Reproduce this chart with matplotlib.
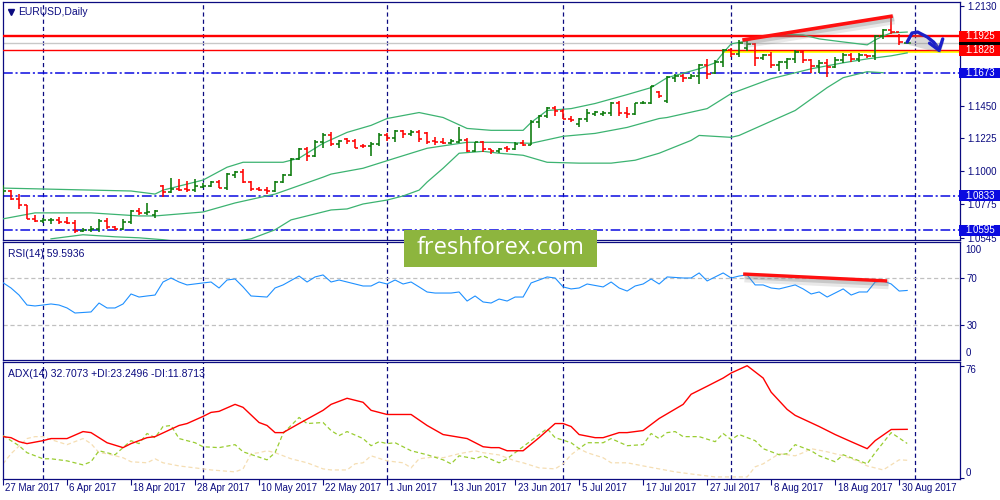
import matplotlib
matplotlib.use('Agg')
import matplotlib.pyplot as plt
import matplotlib.patheffects as pe
import matplotlib.transforms as mtransforms
from matplotlib.collections import LineCollection
from matplotlib.patches import Rectangle, FancyArrowPatch
from matplotlib.path import Path
import pandas as pd

plt.rcParams['font.family'] = ['Liberation Sans', 'DejaVu Sans']
plt.rcParams['lines.scale_dashes'] = False

# trading days shown on the chart
dates = pd.bdate_range('2017-03-27', '2017-08-31')

opens = [1.0840, 1.0866, 1.0809, 1.0768, 1.0675, 1.0660, 1.0664, 1.0668, 1.0652, 1.0648,
         1.0591, 1.0600, 1.0605, 1.0660, 1.0615, 1.0605, 1.0650, 1.0725, 1.0712, 1.0700,
         1.0895, 1.0855, 1.0876, 1.0878, 1.0870, 1.0890, 1.0898, 1.0925, 1.0885, 1.0975,
         1.0995, 1.0926, 1.0875, 1.0870, 1.0865, 1.0927, 1.0973, 1.1082, 1.1150, 1.1102,
         1.1197, 1.1245, 1.1185, 1.1220, 1.1210, 1.1175, 1.1170, 1.1185, 1.1245, 1.1225,
         1.1275, 1.1255, 1.1270, 1.1260, 1.1210, 1.1200, 1.1195, 1.1200, 1.1211, 1.1140,
         1.1200, 1.1150, 1.1140, 1.1160, 1.1150, 1.1190, 1.1180, 1.1336, 1.1380, 1.1435,
         1.1410, 1.1360, 1.1325, 1.1355, 1.1395, 1.1390, 1.1400, 1.1470, 1.1400, 1.1390,
         1.1465, 1.1470, 1.1545, 1.1480, 1.1640, 1.1655, 1.1640, 1.1650, 1.1729, 1.1670,
         1.1750, 1.1830, 1.1805, 1.1845, 1.1870, 1.1775, 1.1795, 1.1725, 1.1750, 1.1770,
         1.1820, 1.1760, 1.1723, 1.1740, 1.1711, 1.1760, 1.1800, 1.1770, 1.1800, 1.1790,
         1.1925, 1.1965, 1.1955, 1.1878]
highs = [1.0905, 1.0870, 1.0843, 1.0768, 1.0700, 1.0680, 1.0680, 1.0686, 1.0684, 1.0666,
         1.0612, 1.0625, 1.0673, 1.0680, 1.0625, 1.0673, 1.0734, 1.0748, 1.0782, 1.0734,
         1.0905, 1.0952, 1.0949, 1.0930, 1.0945, 1.0918, 1.0932, 1.0939, 1.0986, 1.1000,
         1.1014, 1.0932, 1.0891, 1.0891, 1.0932, 1.0980, 1.1089, 1.1157, 1.1164, 1.1211,
         1.1259, 1.1266, 1.1211, 1.1230, 1.1220, 1.1185, 1.1198, 1.1259, 1.1259, 1.1280,
         1.1280, 1.1280, 1.1280, 1.1266, 1.1234, 1.1225, 1.1220, 1.1300, 1.1225, 1.1200,
         1.1210, 1.1155, 1.1160, 1.1175, 1.1200, 1.1212, 1.1348, 1.1388, 1.1443, 1.1445,
         1.1423, 1.1375, 1.1368, 1.1423, 1.1416, 1.1416, 1.1477, 1.1484, 1.1443, 1.1470,
         1.1480, 1.1586, 1.1552, 1.1654, 1.1668, 1.1668, 1.1668, 1.1736, 1.1770, 1.1763,
         1.1838, 1.1845, 1.1900, 1.1893, 1.1880, 1.1804, 1.1818, 1.1757, 1.1777, 1.1832,
         1.1832, 1.1770, 1.1764, 1.1770, 1.1784, 1.1810, 1.1810, 1.1810, 1.1800, 1.1934,
         1.1975, 1.2057, 1.1941, 1.1885]
lows = [1.0836, 1.0802, 1.0741, 1.0673, 1.0652, 1.0646, 1.0640, 1.0640, 1.0637, 1.0577,
        1.0580, 1.0580, 1.0584, 1.0605, 1.0598, 1.0598, 1.0639, 1.0700, 1.0700, 1.0680,
        1.0822, 1.0850, 1.0862, 1.0855, 1.0857, 1.0884, 1.0891, 1.0884, 1.0870, 1.0952,
        1.0918, 1.0864, 1.0863, 1.0841, 1.0857, 1.0918, 1.0966, 1.1075, 1.1068, 1.1095,
        1.1157, 1.1170, 1.1160, 1.1186, 1.1157, 1.1157, 1.1105, 1.1170, 1.1207, 1.1198,
        1.1226, 1.1239, 1.1198, 1.1187, 1.1177, 1.1185, 1.1185, 1.1190, 1.1130, 1.1134,
        1.1134, 1.1120, 1.1125, 1.1134, 1.1145, 1.1170, 1.1177, 1.1293, 1.1368, 1.1380,
        1.1355, 1.1334, 1.1300, 1.1334, 1.1380, 1.1375, 1.1375, 1.1375, 1.1368, 1.1382,
        1.1460, 1.1463, 1.1505, 1.1470, 1.1613, 1.1613, 1.1630, 1.1600, 1.1634, 1.1668,
        1.1716, 1.1784, 1.1784, 1.1825, 1.1723, 1.1763, 1.1709, 1.1689, 1.1702, 1.1743,
        1.1743, 1.1675, 1.1675, 1.1648, 1.1710, 1.1745, 1.1750, 1.1750, 1.1775, 1.1763,
        1.1907, 1.1941, 1.1866, 1.1877]
closes = [1.0866, 1.0809, 1.0768, 1.0675, 1.0660, 1.0667, 1.0668, 1.0650, 1.0648, 1.0591,
          1.0600, 1.0605, 1.0660, 1.0615, 1.0605, 1.0650, 1.0725, 1.0712, 1.0723, 1.0727,
          1.0855, 1.0876, 1.0870, 1.0870, 1.0895, 1.0898, 1.0925, 1.0885, 1.0980, 1.0995,
          1.0926, 1.0875, 1.0870, 1.0865, 1.0927, 1.0973, 1.1082, 1.1150, 1.1102, 1.1197,
          1.1245, 1.1185, 1.1205, 1.1210, 1.1160, 1.1170, 1.1185, 1.1245, 1.1225, 1.1275,
          1.1255, 1.1270, 1.1220, 1.1200, 1.1200, 1.1195, 1.1210, 1.1211, 1.1140, 1.1200,
          1.1150, 1.1140, 1.1155, 1.1150, 1.1185, 1.1180, 1.1336, 1.1380, 1.1435, 1.1410,
          1.1360, 1.1350, 1.1355, 1.1400, 1.1405, 1.1400, 1.1470, 1.1400, 1.1390, 1.1465,
          1.1470, 1.1582, 1.1515, 1.1643, 1.1655, 1.1640, 1.1655, 1.1729, 1.1666, 1.1750,
          1.1830, 1.1805, 1.1881, 1.1870, 1.1775, 1.1795, 1.1725, 1.1750, 1.1770, 1.1820,
          1.1760, 1.1723, 1.1740, 1.1711, 1.1760, 1.1800, 1.1770, 1.1800, 1.1790, 1.1925,
          1.1965, 1.1955, 1.1885, 1.1882]

# Bollinger bands (bar index, price)
bb_up_idx = [0, 16, 19, 20, 25, 28, 30, 35, 37, 40, 43, 46, 48, 52, 55, 58, 61, 65, 66, 68,
             71, 74, 78, 81, 83, 87, 89, 90, 91, 93, 94, 97, 100, 102, 105, 108, 109, 110, 111, 113]
bb_up = [1.0884, 1.0864, 1.0843, 1.0870, 1.0939, 1.1027, 1.1061, 1.1061, 1.1089, 1.1191,
         1.1266, 1.1314, 1.1361, 1.1402, 1.1368, 1.1293, 1.1280, 1.1280, 1.1334, 1.1416,
         1.1429, 1.1464, 1.1525, 1.1573, 1.1641, 1.1702, 1.1743, 1.1811, 1.1873, 1.1893,
         1.1913, 1.1941, 1.1934, 1.1907, 1.1886, 1.1866, 1.1900, 1.1927, 1.1948, 1.1954]
bb_mid_idx = [0, 4, 11, 17, 19, 25, 29, 34, 40, 41, 45, 49, 53, 58, 62, 66, 70, 74, 78, 82,
              83, 88, 91, 96, 101, 105, 108, 111, 113]
bb_mid = [1.0673, 1.0714, 1.0714, 1.0693, 1.0693, 1.0720, 1.0782, 1.0843, 1.0959, 1.0980,
          1.1020, 1.1089, 1.1157, 1.1198, 1.1198, 1.1191, 1.1239, 1.1259, 1.1300, 1.1361,
          1.1368, 1.1429, 1.1532, 1.1634, 1.1702, 1.1743, 1.1770, 1.1791, 1.1811]
bb_low_idx = [6, 10, 14, 17, 20, 25, 28, 31, 34, 36, 41, 43, 45, 48, 50, 52, 53, 55, 57, 60,
              62, 65, 68, 72, 76, 79, 82, 86, 87, 91, 92, 99, 103, 105, 108, 110]
bb_low = [1.0536, 1.0564, 1.0550, 1.0543, 1.0530, 1.0496, 1.0509, 1.0536, 1.0598, 1.0666,
          1.0734, 1.0741, 1.0775, 1.0802, 1.0830, 1.0870, 1.0925, 1.1020, 1.1123, 1.1136,
          1.1123, 1.1109, 1.1061, 1.1055, 1.1055, 1.1075, 1.1123, 1.1211, 1.1245, 1.1232,
          1.1245, 1.1416, 1.1573, 1.1641, 1.1682, 1.1675]

# RSI(14)
rsi_idx = [0, 1, 2, 3, 4, 5, 6, 7, 8, 9,
           11, 12, 13, 14, 15, 16, 17, 18, 19, 20, 21, 22, 23,
           25, 26, 27, 28, 29, 30, 31,
           33, 34, 35,
           37, 38, 39, 40, 41, 42, 43,
           45, 46, 47, 48, 49, 50, 51, 52, 53, 54,
           56, 57, 58, 59, 60, 61, 62, 63, 64, 65, 66, 67, 68, 69, 70, 71, 72, 73,
           75, 76, 77, 78, 79, 80, 81, 82, 83,
           85, 86, 87, 88,
           90, 91, 92, 93, 94, 95, 96, 97,
           99, 100, 101, 102, 103,
           105, 106, 107, 108, 109, 110, 111, 112, 113]
rsi = [66.2, 61.7, 55.7, 47.2, 46.4, 47.2, 48.1, 47.2, 44.7, 40.4,
       41.3, 48.9, 44.7, 44.7, 48.1, 56.6, 54.0, 54.9, 55.7, 66.8, 70.2, 66.8, 64.3,
       66.0, 66.8, 61.7, 68.5, 69.4, 62.6, 54.9,
       54.0, 61.7, 64.3,
       71.9, 66.8, 71.1, 72.8, 66.8, 68.5, 66.8,
       63.4, 63.4, 66.8, 65.1, 68.5, 65.1, 66.8, 62.6, 58.3, 57.4,
       57.4, 58.3, 50.6, 54.9, 49.8, 48.9, 52.3, 50.6, 54.0, 54.0, 66.0, 68.5, 71.1, 70.2, 62.6, 60.9, 61.7, 65.1,
       62.6, 66.8, 61.7, 59.1, 63.4, 65.1, 69.4, 65.1, 71.1,
       70.2, 70.2, 74.5, 67.7,
       74.5, 70.2, 71.9, 72.8, 64.3, 64.3, 61.7, 60.9,
       64.3, 60.9, 56.6, 58.3, 54.0,
       60.9, 55.7, 58.3, 58.3, 66.8, 67.7, 65.1, 59.1, 59.6]

# ADX(14), +DI, -DI
adx_idx = [0, 1, 2, 3, 5, 6, 8, 10, 11, 13, 15, 16, 18, 19, 22, 23, 25, 26, 27, 29,
           30, 32, 33, 34, 35, 37, 40, 41, 43, 45, 46, 48, 51, 53, 55, 58, 60, 61, 62, 63,
           65, 67, 69, 70, 71, 72, 74, 75, 77, 78, 80, 82, 85, 86, 88, 90, 91, 93, 95, 96,
           98, 99, 102, 104, 106, 108, 109, 111, 113]
adx = [27.8, 27.1, 24.4, 23.1, 25.1, 26.5, 26.5, 31.2, 30.5, 23.7, 20.4, 23.1, 27.1, 27.8, 35.3, 36.6, 41.4, 44.1, 44.8, 49.5,
       47.5, 37.3, 35.3, 30.5, 30.5, 36.6, 45.5, 49.5, 53.6, 50.9, 45.5, 42.7, 42.7, 35.3, 29.2, 26.5, 21.0, 20.4, 20.4, 18.3,
       18.3, 27.1, 36.6, 36.6, 34.6, 29.2, 27.1, 27.1, 30.5, 30.5, 31.9, 40.0, 49.5, 56.3, 61.7, 67.2, 70.6, 75.5, 67.2, 57.7,
       46.1, 42.1, 34.6, 29.2, 24.4, 19.7, 25.1, 32.6, 32.7]
pdi_idx = [0, 2, 3, 5, 6, 8, 10, 11, 12, 14, 15, 16, 17, 18, 19, 20, 21, 22, 24, 25,
           27, 29, 30, 33, 34, 35, 37, 38, 40, 41, 42, 43, 45, 46, 47, 48, 49, 51, 53, 55,
           56, 57, 59, 60, 62, 63, 64, 66, 68, 69, 71, 72, 73, 75, 76, 78, 80, 81, 82, 83,
           84, 85, 87, 89, 90, 91, 92, 94, 95, 97, 98, 99, 101, 102, 104, 105, 106, 108, 109, 111,
           113]
pdi = [28.5, 21.7, 17.0, 12.9, 12.9, 11.5, 8.8, 10.9, 18.3, 15.6, 20.4, 25.1, 23.1, 29.9, 27.1, 34.6, 35.3, 26.5, 23.7, 21.0,
       20.4, 22.4, 17.6, 12.2, 17.0, 29.9, 40.7, 36.6, 37.3, 31.9, 28.5, 31.2, 26.5, 21.7, 24.4, 23.1, 23.7, 18.3, 15.6, 12.2,
       9.5, 14.9, 12.9, 14.9, 10.2, 12.9, 17.0, 25.1, 33.2, 27.1, 23.7, 19.7, 23.7, 23.7, 26.5, 21.7, 22.4, 29.9, 26.5, 30.5,
       31.2, 27.8, 27.8, 24.4, 29.9, 25.8, 29.2, 25.1, 19.7, 15.6, 16.3, 22.4, 18.3, 14.9, 10.9, 15.6, 13.6, 9.5, 17.0, 30.5,
       23.2]
mdi_idx = [0, 1, 3, 4, 5, 6, 8, 10, 11, 12, 13, 15, 16, 18, 19, 20, 22, 25, 26, 29,
           30, 31, 32, 33, 34, 36, 38, 40, 41, 43, 44, 45, 46, 48, 50, 51, 52, 54, 55, 57,
           59, 60, 62, 64, 65, 67, 69, 70, 71, 72, 73, 75, 76, 78, 80, 82, 84, 87, 89, 93,
           94, 95, 97, 99, 100, 101, 103, 105, 107, 108, 110, 112, 113]
mdi = [9.5, 16.3, 26.5, 27.8, 27.8, 25.8, 22.4, 26.5, 23.1, 17.0, 16.3, 13.6, 10.9, 10.2, 12.9, 10.2, 8.1, 6.1, 5.4, 4.1,
       6.1, 16.3, 17.0, 18.3, 17.0, 12.9, 10.2, 6.1, 5.4, 5.4, 9.5, 10.2, 14.9, 11.5, 10.2, 6.8, 12.9, 14.2, 13.6, 16.3,
       18.3, 17.0, 15.5, 11.5, 10.2, 6.8, 6.1, 9.5, 15.6, 19.7, 17.0, 13.6, 10.2, 10.2, 8.1, 6.1, 4.1, 2.0, 0.7, 0.7,
       7.5, 9.5, 16.3, 14.9, 17.0, 19.7, 17.6, 14.9, 10.9, 8.1, 5.4, 12.2, 11.9]

# levels and drawn objects
red_levels = [1.1936, 1.1927, 1.1828]
blue_levels = [1.1673, 1.0833, 1.0595]
price_ticks = [1.2130, 1.1450, 1.1225, 1.1000, 1.0775, 1.0545]
price_trend_x, price_trend_y = [92.4, 111.2], [1.1899, 1.2064]
rsi_trend_x, rsi_trend_y = [92.5, 110.5], [73.6, 67.7]
arrow_x = [113.0, 113.6, 114.3, 115.5, 116.3, 116.9, 117.1]
arrow_y = [1.1885, 1.1947, 1.1954, 1.1920, 1.1885, 1.1844, 1.1810]

NAVY = '#0b0b80'
BULL, BEAR = '#0a7a0a', '#ff0000'
BAND = '#3cb371'
LEVEL_BLUE = '#0a0ae0'
XMAX = 119.6

fig = plt.figure(figsize=(10, 5), dpi=100)
fig.patch.set_facecolor('white')
ax1 = fig.add_axes([0.003, 0.52, 0.957, 0.476])
ax2 = fig.add_axes([0.003, 0.28, 0.957, 0.236])
ax3 = fig.add_axes([0.003, 0.042, 0.957, 0.234])

month_starts = [i for i in range(1, len(dates)) if dates[i].month != dates[i - 1].month] + [len(dates)]
for ax in (ax1, ax2, ax3):
    ax.set_xlim(0, XMAX)
    for s in ax.spines.values():
        s.set_color(NAVY)
        s.set_linewidth(0.9)
    for m in month_starts:
        ax.axvline(m, color=NAVY, lw=0.9, dashes=(3, 2.2), zorder=1)
    ax.yaxis.tick_right()
    ax.tick_params(axis='y', length=3, color=NAVY, labelcolor=NAVY, labelsize=7, pad=2)
    ax.tick_params(axis='x', length=0, labelbottom=False)

# soft drop shadow under the hand-drawn trendlines
shadow = [pe.SimpleLineShadow(offset=(1, -2.5), shadow_color='#808080', alpha=0.18, linewidth=7),
          pe.SimpleLineShadow(offset=(1, -2), shadow_color='#808080', alpha=0.3, linewidth=3.5),
          pe.Normal()]

# ---- main panel
ax1.set_ylim(1.0528, 1.2160)
for lv in blue_levels:
    ax1.axhline(lv, color=LEVEL_BLUE, lw=1.1, dashes=(7, 2, 1.5, 2), zorder=2)
ax1.axhline(closes[-1], color='#c8c8c8', lw=1, zorder=2)
ax1.plot([90, XMAX], [1.1822, 1.1822], color='#ffff00', lw=2, zorder=2)
for lv in red_levels:
    ax1.axhline(lv, color='#ff0000', lw=1, zorder=3)

ax1.plot(bb_up_idx, bb_up, color=BAND, lw=0.9, zorder=3)
ax1.plot(bb_mid_idx, bb_mid, color=BAND, lw=0.9, zorder=3)
ax1.plot(bb_low_idx, bb_low, color=BAND, lw=0.9, zorder=3)

segs, cols = [], []
for i in range(len(closes)):
    c = BULL if closes[i] >= opens[i] else BEAR
    segs += [[(i, lows[i]), (i, highs[i])],
             [(i - 0.42, opens[i]), (i, opens[i])],
             [(i, closes[i]), (i + 0.42, closes[i])]]
    cols += [c, c, c]
ax1.add_collection(LineCollection(segs, colors=cols, linewidths=1.15, zorder=4))

ax1.plot(price_trend_x, price_trend_y, color='#ff1010', lw=2.6, zorder=6,
         solid_capstyle='butt', path_effects=shadow)
arr = FancyArrowPatch(path=Path(list(zip(arrow_x, arrow_y))),
                      arrowstyle='->,head_length=0.7,head_width=0.5', mutation_scale=10,
                      color='#1c20c8', lw=2.4, zorder=7,
                      path_effects=[pe.SimplePatchShadow(offset=(1, -2), shadow_rgbFace='#808080', alpha=0.3),
                                    pe.Normal()])
ax1.add_patch(arr)

ax1.set_yticks(price_ticks)
ax1.set_yticklabels([f'{p:.4f}' for p in price_ticks])

# boxed price labels on the right (box ~11 px tall, from x=958 to the edge)
btrans = mtransforms.blended_transform_factory(fig.transFigure, ax1.transData)
box_h = 0.0075
boxed = [(closes[-1], '#000000', ''), (1.1925, '#ff0000', '1.1925'), (1.1828, '#ff0000', '1.1828'),
         (1.1673, LEVEL_BLUE, '1.1673'), (1.0833, LEVEL_BLUE, '1.0833'), (1.0595, LEVEL_BLUE, '1.0595')]
for k, (price, bc, txt) in enumerate(boxed):
    ax1.add_patch(Rectangle((0.9585, price - box_h / 2), 0.042, box_h, transform=btrans,
                            fc=bc, ec='none', clip_on=False, zorder=9 + k * 0.1))
    if txt:
        ax1.text(0.9655, price, txt, transform=btrans, ha='left', va='center',
                 fontsize=7, color='white', clip_on=False, zorder=10)

ax1.plot(0.008, 0.958, marker='v', ms=4, color=NAVY, transform=ax1.transAxes, clip_on=False)
ax1.text(0.016, 0.958, 'EURUSD,Daily', transform=ax1.transAxes, fontsize=7.5,
         color=NAVY, va='center', ha='left')

# ---- RSI panel
ax2.set_ylim(0.4, 100.85)
ax2.axhline(70, color='#c0c0c0', lw=0.9, dashes=(3, 2))
ax2.axhline(30, color='#c0c0c0', lw=0.9, dashes=(3, 2))
ax2.plot(rsi_idx, rsi, color='#1e90ff', lw=0.8, zorder=3)
ax2.plot(rsi_trend_x, rsi_trend_y, color='#ff1010', lw=2.4, zorder=5,
         solid_capstyle='butt', path_effects=shadow)
ax2.set_yticks([30, 70])
ax2.set_yticklabels(['30', '70'])
rtrans = mtransforms.blended_transform_factory(fig.transFigure, ax2.transData)
ax2.text(0.9655, 94, '100', transform=rtrans, fontsize=7, color=NAVY, va='center', clip_on=False)
ax2.text(0.9655, 6.4, '0', transform=rtrans, fontsize=7, color=NAVY, va='center', clip_on=False)
ax2.text(0.005, 0.9, 'RSI(14) 59.5936', transform=ax2.transAxes, fontsize=7.5,
         color=NAVY, va='center', ha='left')

# ---- ADX panel
ax3.set_ylim(-0.7, 78)
ax3.plot(mdi_idx, mdi, color='#f5deb3', lw=0.9, dashes=(3, 2), zorder=2)
ax3.plot(pdi_idx, pdi, color='#9acd32', lw=0.9, dashes=(3, 2), zorder=3)
ax3.plot(adx_idx, adx, color='#ff0000', lw=1.0, zorder=4)
ax3.set_yticks([75.5, 0])
ax3.set_yticklabels(['', ''])
atrans = mtransforms.blended_transform_factory(fig.transFigure, ax3.transData)
ax3.text(0.9655, 72.6, '76', transform=atrans, fontsize=7, color=NAVY, va='center', clip_on=False)
ax3.text(0.9655, 3.4, '0', transform=atrans, fontsize=7, color=NAVY, va='center', clip_on=False)
ax3.text(0.005, 0.9, 'ADX(14) 32.7073 +DI:23.2496 -DI:11.8713', transform=ax3.transAxes,
         fontsize=7.5, color=NAVY, va='center', ha='left')

# date labels every 8 bars
date_ticks = list(range(0, len(dates), 8))
ax3.set_xticks(date_ticks)
ax3.tick_params(axis='x', length=4, color=NAVY, direction='out')
dtrans = mtransforms.blended_transform_factory(ax3.transData, ax3.transAxes)
for i in date_ticks:
    d = dates[i]
    ax3.text(i + 0.3, -0.075, f'{d.day} {d.strftime("%b %Y")}', transform=dtrans,
             fontsize=7, color=NAVY, ha='left', va='center', clip_on=False)

# watermark
fig.add_artist(Rectangle((0.404, 0.466), 0.193, 0.074, transform=fig.transFigure,
                         fc='#8db53e', ec='none', zorder=20))
fig.text(0.5005, 0.503, 'freshforex.com', fontsize=17, color='white', ha='center',
         va='center', family='Open Sans', zorder=21)

fig.savefig('out.png', dpi=100)
